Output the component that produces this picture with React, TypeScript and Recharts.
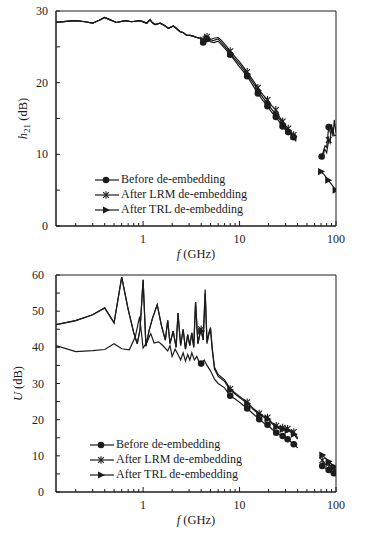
import { ComposedChart, Line, XAxis, YAxis, ReferenceArea, Legend } from "recharts";

const FONT = '"Liberation Serif", "Times New Roman", serif';
const INK = "#1c1c1c";

// log frequency axis, labels only on the decades
const xTicks = [0.2, 0.3, 0.4, 0.5, 0.6, 0.7, 0.8, 0.9, 1, 2, 3, 4, 5, 6, 7, 8, 9, 10, 20, 30, 40, 50, 60, 70, 80, 90, 100];
const xLabels = [1, 10, 100];
const h21Ticks = [0, 5, 10, 15, 20, 25, 30];
const uTicks = [0, 5, 10, 15, 20, 25, 30, 35, 40, 45, 50, 55, 60];

const names = ["Before de-embedding", "After LRM de-embedding", "After TRL de-embedding"];

// ---- h21 : the three curves sit on top of each other below ~4 GHz
const h21LowF = [0.125, 0.16, 0.2, 0.25, 0.3, 0.35, 0.4, 0.45, 0.53, 0.65, 0.76, 0.93, 1.09, 1.18, 1.25, 1.33, 1.5, 1.65, 1.83, 2.06, 2.2, 2.42, 2.6, 2.84, 3.07, 3.3, 3.6, 3.9];
const h21Low = [28.4, 28.55, 28.65, 28.5, 28.3, 28.7, 29.1, 28.8, 28.4, 28.65, 28.5, 28.65, 28.3, 28.8, 28.35, 28.1, 28.3, 28.0, 27.6, 27.9, 27.6, 27.1, 27.0, 26.6, 26.6, 26.5, 26.3, 26.2];
const h21HighF = [4.2, 4.6, 5.0, 5.4, 6.0, 6.5, 7.2, 8.0, 9.0, 10, 12, 13.5, 15.5, 17.5, 19.5, 21.5, 23.8, 26, 28, 30, 32, 34, 36.3, 38.5];
const h21BeforeHigh = [25.6, 26.1, 25.7, 25.6, 25.8, 25.3, 24.6, 23.9, 23.0, 22.2, 20.9, 19.8, 18.5, 17.5, 16.7, 15.9, 15.2, 14.5, 13.9, 13.4, 13.1, 12.8, 12.4, 11.8];
const h21LrmHigh = [26.0, 26.4, 26.0, 26.2, 26.3, 25.9, 25.2, 24.4, 23.6, 22.9, 21.5, 20.5, 19.3, 18.3, 17.6, 16.8, 16.2, 15.2, 14.6, 14.0, 13.6, 13.2, 12.7, 12.0];
const h21TrlHigh = [25.8, 26.2, 25.8, 25.9, 26.1, 25.6, 24.9, 24.1, 23.3, 22.6, 21.2, 20.2, 18.9, 17.9, 17.1, 16.3, 15.6, 14.9, 14.2, 13.7, 13.3, 13.0, 12.5, 11.9];
// W-band
const h21WBeforeF = [71, 74, 77, 80, 84, 88, 92, 96, 100];
const h21WBefore = [9.7, 10.4, 11.2, 11.0, 13.8, 12.9, 13.6, 12.6, 12.7];
const h21WLrmF = [73, 76, 80, 84, 87, 90, 93, 96, 100];
const h21WLrm = [9.3, 10.8, 10.2, 12.0, 11.6, 14.2, 12.5, 14.8, 13.0];
const h21WTrlF = [70, 76, 83, 90, 99];
const h21WTrl = [7.6, 7.1, 6.4, 5.8, 5.0];
const h21Marks = [4.2, 4.6, 8.0, 12, 15.5, 19.5, 23.8, 28, 32, 36.3, 70, 71, 83, 84, 99];

// ---- U
const uBeforeF = [0.125, 0.2, 0.3, 0.4, 0.5, 0.6, 0.72, 0.83, 0.92, 1.0, 1.1, 1.2, 1.3, 1.45, 1.6, 1.8, 1.9, 2.0, 2.15, 2.3, 2.45, 2.6, 2.75, 2.9, 3.05, 3.2, 3.4, 3.6, 3.8, 4.0, 4.3, 4.6, 5.0, 5.5, 6.0, 7, 8, 9, 10, 12, 14, 16, 18, 19.5, 22, 24, 26, 28, 30, 31.5, 34, 36.5, 40];
const uBefore = [40.5, 38.8, 39.1, 39.4, 41.0, 39.6, 39.3, 42.9, 48.5, 39.8, 41.5, 43.8, 41.2, 41.5, 40.5, 39.0, 40.5, 37.5, 39.5, 38.0, 36.5, 38.5, 36.2, 38.0, 36.5, 38.5, 36.5, 37.5, 36.0, 35.5, 36.5, 35.0, 33.5, 31.2, 30.0, 28.8, 26.6, 25.7, 24.8, 23.1, 21.5, 20.1, 19.0, 18.6, 17.2, 16.4, 15.9, 15.5, 15.0, 14.6, 13.9, 13.2, 12.2];
// LRM and TRL coincide below 4 GHz
const uAfterLowF = [0.125, 0.2, 0.3, 0.4, 0.5, 0.6, 0.7, 0.8, 0.87, 0.93, 1.0, 1.07, 1.15, 1.25, 1.4, 1.55, 1.7, 1.8, 1.9, 2.05, 2.2, 2.3, 2.45, 2.6, 2.75, 2.9, 3.05, 3.2, 3.35, 3.5, 3.7, 3.9];
const uAfterLow = [46.3, 47.4, 49.0, 50.9, 46.8, 59.4, 50.5, 44.0, 41.0, 45.0, 58.7, 40.3, 44.5, 48.0, 51.8, 46.0, 42.0, 47.5, 41.0, 44.5, 40.0, 49.5, 40.5, 45.0, 39.5, 43.5, 40.5, 44.0, 40.0, 52.5, 41.0, 44.0];
const uHighF = [4.0, 4.2, 4.4, 4.6, 4.8, 5.0, 5.2, 5.5, 6.0, 7, 8, 9, 10, 12, 14, 16, 18, 19.5, 22, 24, 26, 28, 30, 31.5, 34, 36.5, 40];
const uLrmHigh = [45.0, 42.0, 56.0, 41.5, 44.0, 45.5, 40.0, 34.5, 32.5, 31.0, 28.5, 27.4, 26.4, 24.8, 23.0, 21.7, 20.9, 20.6, 19.0, 18.3, 18.0, 17.8, 17.6, 17.5, 17.0, 16.6, 15.0];
const uTrlHigh = [44.5, 42.0, 55.0, 41.0, 43.5, 45.0, 39.5, 34.0, 32.0, 30.6, 28.2, 27.1, 26.1, 24.5, 22.7, 21.4, 20.6, 20.2, 18.7, 18.0, 17.6, 17.3, 17.1, 17.0, 16.5, 16.0, 14.6];
const uWF = [72, 78, 84, 90, 95, 100];
const uWBefore = [7.2, 6.6, 6.1, 5.4, 5.2, 4.6];
const uWLrm = [8.8, 7.6, 7.8, 6.2, 6.6, 5.1];
const uWTrl = [10.2, 9.3, 8.4, 7.6, 7.0, 6.0];
const uMarks = [4.0, 8, 12, 16, 19.5, 24, 28, 31.5, 36.5, 72, 84, 95];

type Kind = "circle" | "star" | "tri";

const pts = (f: number[], v: number[]) => f.map((x, i) => ({ f: x, v: v[i] }));
const GAP = { f: 55, v: null };

const h21Series = [
  { name: names[0], kind: "circle" as Kind, data: [...pts(h21LowF, h21Low), ...pts(h21HighF, h21BeforeHigh), GAP, ...pts(h21WBeforeF, h21WBefore)] },
  { name: names[1], kind: "star" as Kind, data: [...pts(h21LowF, h21Low), ...pts(h21HighF, h21LrmHigh), GAP, ...pts(h21WLrmF, h21WLrm)] },
  { name: names[2], kind: "tri" as Kind, data: [...pts(h21LowF, h21Low), ...pts(h21HighF, h21TrlHigh), GAP, ...pts(h21WTrlF, h21WTrl)] },
];

const uSeries = [
  { name: names[0], kind: "circle" as Kind, data: [...pts(uBeforeF, uBefore), GAP, ...pts(uWF, uWBefore)] },
  { name: names[1], kind: "star" as Kind, data: [...pts(uAfterLowF, uAfterLow), ...pts(uHighF, uLrmHigh), GAP, ...pts(uWF, uWLrm)] },
  { name: names[2], kind: "tri" as Kind, data: [...pts(uAfterLowF, uAfterLow), ...pts(uHighF, uTrlHigh), GAP, ...pts(uWF, uWTrl)] },
];

function Marker({ kind, cx, cy }: { kind: Kind; cx: number; cy: number }) {
  if (kind === "circle") return <circle cx={cx} cy={cy} r={3.3} fill={INK} />;
  if (kind === "tri")
    return <polygon points={`${cx + 4},${cy} ${cx - 3},${cy - 3.6} ${cx - 3},${cy + 3.6}`} fill={INK} />;
  const r = 3.8;
  const d = r * 0.75;
  return (
    <g stroke={INK} strokeWidth={1.1}>
      <line x1={cx} y1={cy - r} x2={cx} y2={cy + r} />
      <line x1={cx - d} y1={cy - d} x2={cx + d} y2={cy + d} />
      <line x1={cx - d} y1={cy + d} x2={cx + d} y2={cy - d} />
    </g>
  );
}

const makeDot = (kind: Kind, marks: number[]) => (p: any) => {
  const show = p.cx != null && p.cy != null && p.payload && p.payload.v != null && marks.includes(p.payload.f);
  return <g key={`m-${kind}-${p.index}`}>{show && <Marker kind={kind} cx={p.cx} cy={p.cy} />}</g>;
};

const XTick = (p: any) => {
  const base = p.y - 2; // tickSize 0, tickMargin 2
  const v = p.payload.value;
  const major = xLabels.includes(v);
  return (
    <g>
      <line x1={p.x} x2={p.x} y1={base} y2={base - (major ? 5 : 3)} stroke={INK} />
      {major && (
        <text x={p.x} y={base + 17} textAnchor="middle" fontSize={12} fontFamily={FONT} fill={INK}>
          {v}
        </text>
      )}
    </g>
  );
};

const makeYTick = (gap: number) => (p: any) => {
  const base = p.x + 2;
  const v = p.payload.value;
  const major = v % 10 === 0;
  return (
    <g>
      <line x1={base} x2={base + 4} y1={p.y} y2={p.y} stroke={INK} />
      {major && (
        <text x={base - gap} y={p.y + 4} textAnchor="end" fontSize={12} fontFamily={FONT} fill={INK}>
          {v}
        </text>
      )}
    </g>
  );
};

const makeLegend = (series: { name: string; kind: Kind }[]) => (props: any) => {
  const items = [...(props.payload || [])].sort((a: any, b: any) => names.indexOf(a.value) - names.indexOf(b.value));
  return (
    <div style={{ fontFamily: FONT, fontSize: 12, color: INK }}>
      {items.map((it: any) => {
        const kind = (series.find((s) => s.name === it.value) || series[0]).kind;
        return (
          <div key={it.value} style={{ display: "flex", alignItems: "center", height: 15, whiteSpace: "nowrap" }}>
            <svg width={24} height={10} style={{ overflow: "visible" }}>
              <line x1={0} y1={5} x2={24} y2={5} stroke={INK} strokeWidth={1.2} />
              <Marker kind={kind} cx={11} cy={5} />
            </svg>
            <span style={{ marginLeft: 2, lineHeight: "15px" }}>{it.value}</span>
          </div>
        );
      })}
    </div>
  );
};

function Panel(props: any) {
  const { series, marks, yMax, yTicks, yTitle, titleX, labelGap, height, margin, legendPos } = props;
  return (
    <ComposedChart width={368} height={height} margin={margin}>
      <XAxis
        dataKey="f"
        type="number"
        scale="log"
        domain={[0.125, 100]}
        allowDataOverflow
        ticks={xTicks}
        interval={0}
        tick={XTick}
        tickLine={false}
        tickSize={0}
        tickMargin={2}
        height={30}
        stroke={INK}
        label={{
          content: ({ viewBox }: any) => (
            <text x={viewBox.x + viewBox.width / 2} y={viewBox.y + 32} textAnchor="middle" fontSize={12.5} fontFamily={FONT} fill={INK}>
              <tspan fontStyle="italic">f</tspan> (GHz)
            </text>
          ),
        }}
      />
      <YAxis
        type="number"
        domain={[0, yMax]}
        ticks={yTicks}
        interval={0}
        tick={makeYTick(labelGap)}
        tickLine={false}
        tickSize={0}
        tickMargin={2}
        width={46}
        stroke={INK}
        label={{
          content: ({ viewBox }: any) => {
            const cy = viewBox.y + viewBox.height / 2;
            return (
              <text x={titleX} y={cy} transform={`rotate(-90 ${titleX} ${cy})`} textAnchor="middle" fontSize={12.5} fontFamily={FONT} fill={INK}>
                {yTitle}
              </text>
            );
          },
        }}
      />
      <ReferenceArea x1={0.125} x2={100} y1={0} y2={yMax} fill="none" stroke={INK} strokeWidth={1} />
      {series.map((s: any) => (
        <Line
          key={s.name}
          name={s.name}
          data={s.data}
          dataKey="v"
          type="linear"
          stroke={INK}
          strokeWidth={1.2}
          dot={makeDot(s.kind, marks)}
          activeDot={false}
          connectNulls={false}
          isAnimationActive={false}
        />
      ))}
      <Legend
        layout="vertical"
        align="center"
        verticalAlign="middle"
        content={makeLegend(series)}
        wrapperStyle={{ left: legendPos[0], top: legendPos[1], width: 200 }}
      />
    </ComposedChart>
  );
}

export default function App() {
  return (
    <div style={{ position: "absolute", left: 0, top: 0, width: 368, height: 533, background: "#fff", fontFamily: FONT }}>
      <Panel
        series={h21Series}
        marks={h21Marks}
        yMax={30}
        yTicks={h21Ticks}
        titleX={27}
        labelGap={8}
        height={262}
        margin={{ top: 11, right: 32, bottom: 6, left: 10 }}
        legendPos={[95, 172]}
        yTitle={
          <>
            <tspan fontStyle="italic">h</tspan>
            <tspan dy={3} fontSize={9}>21</tspan>
            <tspan dy={-3}> (dB)</tspan>
          </>
        }
      />
      <Panel
        series={uSeries}
        marks={uMarks}
        yMax={60}
        yTicks={uTicks}
        titleX={22}
        labelGap={12}
        height={271}
        margin={{ top: 13, right: 32, bottom: 11, left: 10 }}
        legendPos={[90, 175]}
        yTitle={
          <>
            <tspan fontStyle="italic">U</tspan>
            <tspan> (dB)</tspan>
          </>
        }
      />
    </div>
  );
}
